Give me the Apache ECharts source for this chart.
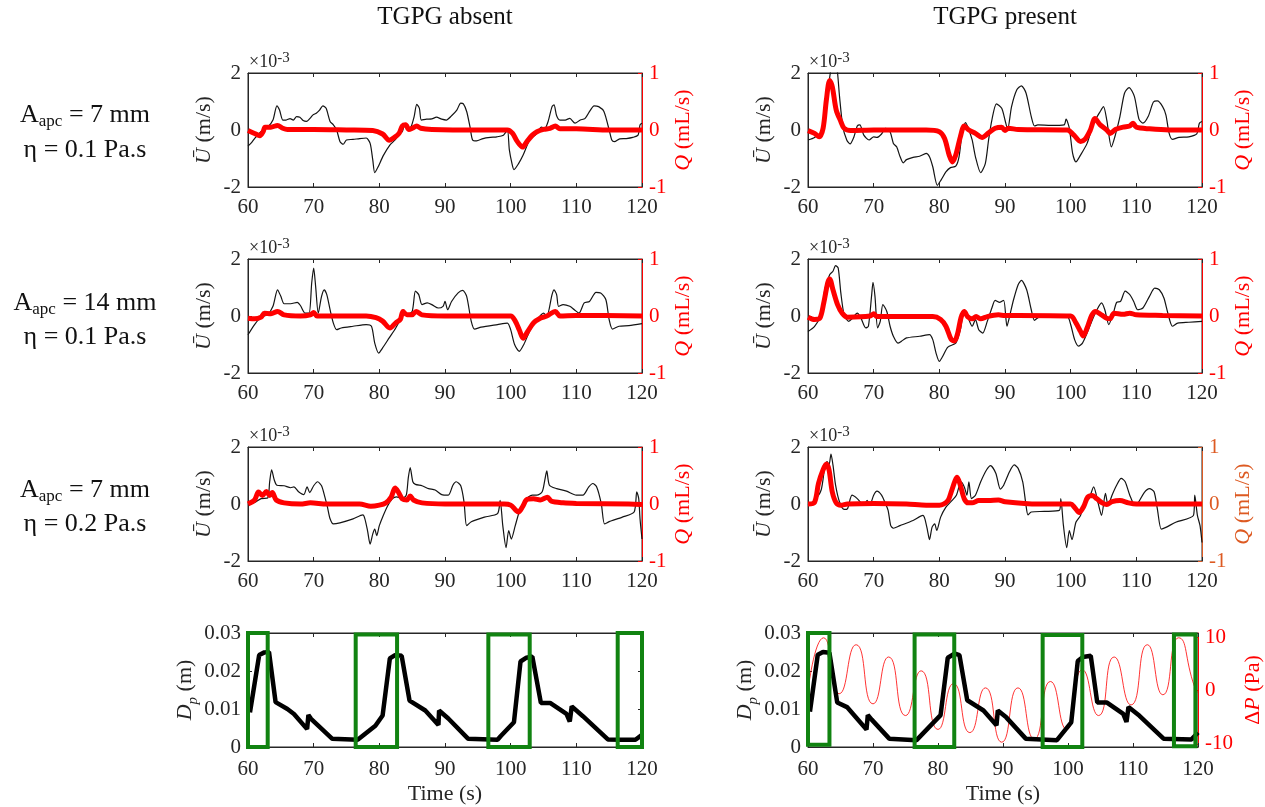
<!DOCTYPE html>
<html>
<head>
<meta charset="utf-8">
<script src="https://cdn.jsdelivr.net/npm/echarts@6/dist/echarts.min.js"></script>
<style>
  html, body { margin: 0; padding: 0; background: #fff; }
  #main { width: 1265px; height: 807px; }
</style>
</head>
<body>
<div id="main"></div>
<script>
// column titles and row labels
var colTitles = ['TGPG absent', 'TGPG present'];
var aApc = ['7', '14', '7'];
var etaVals = ['0.1', '0.1', '0.2'];

// U in units of 1e-3 m/s, Q in mL/s : [time, value]
var uAbsent1 = [[60,-0.56],[60.5,-0.45],[61,-0.3],[62,-0.05],[63,0.1],[63.8,0.35],[64.4,0.85],[64.8,0.7],[65.3,0.35],[65.8,0.35],[66.4,0.4],[66.9,0.35],[67.4,0.47],[67.9,0.45],[68.4,0.33],[68.9,0.3],[69.4,0.4],[69.9,0.53],[70.4,0.59],[70.9,0.7],[71.4,0.85],[71.9,0.76],[72.5,0.3],[73,0.18],[73.5,0],[74,-0.4],[74.5,-0.5],[75,-0.35],[76,-0.33],[77,-0.3],[78,-0.28],[78.6,-0.47],[79,-1.05],[79.3,-1.5],[79.8,-1.3],[80.6,-0.9],[81.6,-0.53],[82.4,-0.35],[83.1,-0.14],[83.5,-0.05],[83.9,0.2],[84.3,0.05],[84.8,0.1],[85.3,0.47],[85.7,0.9],[86.1,0.76],[86.4,0.35],[87.2,0.38],[88,0.39],[88.7,0.45],[89.5,0.38],[90.2,0.35],[91,0.5],[91.8,0.7],[92.4,0.94],[92.8,0.92],[93.3,0.65],[93.8,0.12],[94.2,-0.35],[94.8,-0.38],[95.8,-0.3],[96.9,-0.26],[97.9,-0.24],[98.9,-0.18],[99.5,0],[99.8,-0.7],[100.2,-1.18],[100.5,-1.39],[101.2,-1.18],[101.9,-0.88],[102.9,-0.35],[103.9,-0.14],[104.7,0.1],[105.2,0.06],[105.7,0.3],[106.3,0.82],[106.6,0.88],[107,0.5],[107.5,0.35],[108.3,0.35],[109,0.41],[109.8,0.24],[110.6,0.35],[111.3,0.4],[112.1,0.68],[112.7,0.85],[113.4,0.82],[114.2,0.65],[115,0],[115.4,-0.35],[115.8,-0.41],[116.6,-0.31],[117.6,-0.3],[118.6,-0.26],[119.4,-0.18],[119.7,0.18],[120,0.24]];
var qAbsent1 = [[60,-0.01],[61,-0.06],[61.8,-0.1],[62.3,-0.03],[62.6,0.05],[63.5,0.05],[64.5,0.08],[65.3,0.03],[66,0.01],[70,0.01],[75,0],[79,-0.01],[80.5,-0.07],[81.5,-0.18],[82.3,-0.13],[83,-0.06],[83.5,0.07],[84,0.09],[84.5,0.01],[85,0.03],[85.7,0.07],[86.3,0.03],[88,0.01],[95,0],[99.5,0],[100.3,-0.06],[101,-0.2],[101.8,-0.3],[102.5,-0.2],[103.3,-0.09],[104,-0.03],[105,0.01],[106,0.03],[106.8,0.07],[107.5,0.02],[110,0.02],[115,0],[120,0]];
var uPresent1 = [[60,-0.35],[61,-0.26],[62,-0.06],[62.5,0.35],[63,1.3],[63.4,2.0],[63.8,2.5],[64.2,2.4],[64.5,2.0],[64.8,1.18],[65.3,0.12],[65.9,-0.35],[66.4,-0.49],[67,-0.24],[67.5,0.14],[67.9,0.18],[68.5,-0.18],[69.3,-0.35],[70,-0.24],[70.5,-0.26],[71.2,-0.14],[71.8,0.06],[72.5,-0.06],[73,-0.47],[73.5,-0.59],[74,-0.92],[74.5,-1.15],[75,-1.04],[76,-0.96],[77,-0.92],[78,-0.82],[78.5,-0.94],[79,-1.29],[79.7,-1.94],[80.3,-1.74],[81,-1.47],[81.7,-1.32],[82.5,-1.27],[83,-0.94],[83.5,-0.06],[84,0.26],[84.5,0],[85,-0.35],[85.5,-0.94],[86.3,-1.5],[87,-1.18],[87.5,-0.35],[88,0.35],[88.7,0.92],[89.5,0.76],[90,0.35],[90.4,0.02],[91,0.82],[91.8,1.41],[92.5,1.55],[93.2,1.3],[94,0.47],[94.5,0.14],[95,0.18],[97,0.16],[99,0.18],[99.3,0.38],[99.8,0.06],[100.3,-0.82],[100.8,-1.12],[101.5,-0.88],[102.5,-0.47],[103.5,0.24],[104.5,0.65],[105,0.82],[105.5,0.35],[106.2,-0.59],[106.8,-0.18],[107.5,0.47],[108.2,1.29],[108.9,1.49],[109.7,1.18],[110.4,0.38],[111,0.24],[111.8,0.47],[112.6,0.98],[113.2,1.02],[114,0.82],[114.5,0.53],[115,-0.12],[115.5,-0.33],[116.5,-0.26],[118,-0.24],[119.2,-0.14],[119.6,0.24],[120,0.3]];
var qPresent1 = [[60,-0.01],[61,-0.06],[61.7,-0.12],[62.3,0.03],[62.8,0.53],[63.3,0.87],[63.7,0.76],[64.3,0.35],[65,0.15],[65.5,0.03],[66.5,-0.01],[70,0],[78,0],[80,-0.03],[80.8,-0.15],[81.5,-0.44],[82,-0.56],[82.5,-0.44],[83.2,-0.12],[83.8,0.07],[84.5,0],[85.5,-0.06],[86.5,-0.13],[87.5,-0.05],[88.5,0.03],[89.5,0.05],[90,-0.01],[90.5,0.03],[92,0.01],[99.5,0],[100.5,-0.09],[101.5,-0.2],[102.2,-0.16],[103,0],[103.7,0.2],[104.5,0.09],[105.5,0],[106,-0.06],[106.8,0.01],[108,0.05],[109,0.07],[109.5,0.12],[110,0.05],[112,0.02],[115,0],[120,0]];

var uAbsent2 = [[60,-0.66],[61,-0.3],[62,-0.04],[63,0.05],[63.8,0.34],[64.5,0.92],[65,0.69],[65.5,0.43],[66.5,0.43],[67.5,0.48],[68,0.36],[68.7,0.1],[69.3,0.1],[69.7,1.16],[70,1.68],[70.3,1.04],[70.7,0.1],[71.2,0.69],[71.6,0.92],[72,0.75],[72.5,0.22],[73,-0.25],[73.5,-0.48],[74.2,-0.42],[76,-0.36],[78,-0.3],[78.8,-0.36],[79.3,-0.95],[79.9,-1.3],[80.5,-1.12],[81.5,-0.77],[82.5,-0.42],[83.3,-0.07],[83.7,0.22],[84.2,0.05],[85,0.16],[85.5,0.87],[86,0.75],[86.5,0.4],[87.3,0.46],[88,0.4],[89,0.28],[89.7,0.34],[90,0.51],[90.4,0.22],[91,0.51],[92,0.81],[92.7,0.9],[93.3,0.69],[94,-0.19],[94.5,-0.46],[95.5,-0.39],[98,-0.3],[99.5,-0.25],[100,-0.48],[100.6,-1],[101.3,-1.24],[102,-1],[103,-0.48],[104,-0.13],[105,0.1],[105.5,-0.01],[106.3,0.75],[106.6,0.92],[107,0.75],[107.3,0.34],[108,0.4],[109,0.34],[109.7,0.22],[110.4,0.1],[111.2,0.46],[112,0.51],[113,0.83],[113.7,0.81],[114.5,0.57],[115,-0.13],[115.5,-0.46],[116.5,-0.36],[118,-0.34],[120,-0.27]];
var qAbsent2 = [[60,-0.04],[61,-0.05],[62,-0.02],[62.5,0.05],[63.5,0.04],[64.5,0.08],[65.5,0.02],[68,0],[69.5,0.02],[70,0.06],[70.5,0],[72,0],[78,0],[79.5,-0.03],[80.5,-0.09],[81.6,-0.21],[82.5,-0.12],[83.2,-0.06],[83.6,0.08],[84.2,0.02],[85,0.02],[85.6,0.08],[86.5,0.02],[90,0],[100,0],[100.7,-0.09],[101.3,-0.24],[101.9,-0.39],[102.6,-0.27],[103.5,-0.12],[104.5,-0.04],[105.5,0],[106.8,0.08],[107.5,0],[110,0.01],[120,0]];
var uPresent2 = [[60,-0.54],[61,-0.36],[62,0.05],[62.6,0.98],[63.3,1.45],[63.8,1.57],[64.2,1.77],[64.6,1.68],[65,0.81],[65.5,0.05],[66.2,-0.19],[66.8,-0.07],[67.5,0.1],[68,-0.04],[68.8,-0.42],[69.2,-0.36],[69.7,0.75],[69.9,1.18],[70.2,0.69],[70.6,-0.42],[71,-0.19],[71.4,0.4],[72,0.16],[72.5,-0.36],[73,-0.71],[73.7,-0.95],[74.2,-0.89],[75,-0.77],[77,-0.71],[78.5,-0.65],[79,-0.83],[79.5,-1.3],[80,-1.59],[80.5,-1.42],[81.3,-1.09],[82.5,-0.95],[83.2,-0.48],[83.8,0.22],[84.3,-0.01],[85,-0.36],[85.5,-0.13],[86,-0.48],[86.6,-0.6],[87.3,-0.19],[88,0.28],[88.5,0.55],[89.2,0.48],[89.8,0.55],[90.3,-0.36],[90.7,-0.01],[91.3,0.57],[92,1.1],[92.5,1.25],[93.3,0.92],[94,0.22],[94.5,-0.15],[95.2,-0.04],[97,-0.03],[99.5,-0.03],[100,-0.3],[100.6,-0.83],[101.2,-1.06],[101.8,-0.95],[102.5,-0.6],[103.2,-0.19],[104,0.22],[104.7,0.46],[105.2,0.22],[105.8,-0.3],[106.5,0.1],[107,0.48],[107.6,0.51],[108.3,0.87],[109,0.75],[109.6,0.51],[110.2,0.22],[111,0.28],[112,0.69],[112.8,0.98],[113.5,0.92],[114.2,0.63],[114.8,0.1],[115.5,-0.36],[116.3,-0.25],[118,-0.22],[120,-0.19]];
var qPresent2 = [[60,-0.02],[61,-0.06],[61.8,-0.04],[62.4,0.23],[63,0.58],[63.3,0.65],[63.8,0.46],[64.5,0.2],[65.2,0.05],[66,-0.02],[69.5,0],[70,0.04],[70.5,-0.01],[79,-0.01],[80.2,-0.06],[81,-0.18],[81.8,-0.41],[82.3,-0.44],[82.8,-0.3],[83.3,-0.03],[83.8,0.08],[84.3,-0.01],[85,-0.05],[85.6,-0.01],[86.3,-0.05],[87.3,-0.01],[89,0.02],[90,0.01],[92,0.01],[100,0],[100.8,-0.12],[101.5,-0.27],[101.9,-0.35],[102.5,-0.21],[103.2,0.01],[103.8,0.08],[104.7,0.02],[105.5,-0.04],[106,-0.05],[106.6,0.05],[108,0.03],[109,0.05],[110,0.02],[114,0.01],[120,0]];

var uAbsent3 = [[60,-0.02],[61,0.05],[62,0.19],[63,0.21],[63.3,0.78],[63.6,1.2],[64,0.84],[64.4,0.66],[65.5,0.64],[66.5,0.57],[67,0.6],[67.7,0.43],[68.5,0.33],[69,0.6],[69.4,0.4],[70,0.64],[70.6,0.78],[71.2,0.64],[71.7,0.25],[72.1,-0.11],[72.5,-0.52],[73,-0.7],[74,-0.66],[76,-0.52],[77.5,-0.38],[77.8,-0.52],[78.2,-0.93],[78.6,-1.41],[79,-1.05],[79.3,-0.88],[79.6,-1.11],[80,-0.76],[80.6,-0.4],[81.3,-0.05],[82,0.19],[82.6,0.25],[83.5,0.19],[84.1,0.31],[84.4,0.9],[84.7,1.28],[85.1,0.78],[85.5,0.69],[86.5,0.64],[87.5,0.54],[88.5,0.49],[89.5,0.33],[90.5,0.31],[91.2,0.66],[91.7,0.78],[92.4,0.64],[92.9,0.07],[93.3,-0.76],[94,-0.62],[96,-0.46],[98,-0.34],[98.4,0.13],[98.8,-0.76],[99.3,-1.53],[99.7,-0.93],[100.1,-1.23],[100.7,-0.76],[101.3,-0.28],[102,0.07],[103.3,0.31],[104,0.31],[104.8,0.43],[105.2,0.84],[105.5,1.16],[105.9,0.66],[107,0.54],[108.5,0.45],[110,0.31],[111,0.31],[111.9,0.6],[112.5,0.72],[113.1,0.6],[113.8,0.01],[114.3,-0.7],[115,-0.62],[117,-0.46],[118.8,-0.28],[119.2,0.43],[119.5,0.19],[119.7,-0.52],[120,-1.23]];
var qAbsent3 = [[60,0],[61,0.07],[61.6,0.21],[62.2,0.15],[62.8,0.22],[63.3,0.15],[63.7,0.2],[64.3,0.07],[65.5,0.02],[68,0],[69.5,0.02],[72,0],[77,0],[78.7,-0.04],[80,-0.02],[81,0.02],[81.8,0.12],[82.4,0.28],[82.9,0.21],[83.5,0.09],[84.2,0.07],[84.7,0.14],[85.2,0.07],[86.5,0.02],[90,0],[99,0],[100,-0.02],[100.8,-0.11],[101.2,-0.14],[101.8,-0.05],[102.5,0.08],[103.5,0.09],[104.5,0.07],[105.6,0.12],[106.2,0.05],[108,0.02],[110,0.01],[118,0],[120,-0.01]];
var uPresent3 = [[60,-0.02],[61,0.13],[62,0.49],[62.6,1.37],[62.9,1.49],[63.2,1.37],[63.5,1.75],[63.8,1.37],[64.2,0.66],[64.8,0.07],[65.5,-0.19],[66,-0.17],[66.7,0.31],[67.5,0.19],[68.5,-0.05],[69,0.13],[69.4,-0.05],[70,0.31],[70.5,0.45],[71.2,0.31],[71.8,0.01],[72.2,-0.22],[72.6,-0.76],[73,-0.85],[74,-0.76],[76,-0.58],[77.5,-0.4],[77.8,-0.52],[78.2,-0.93],[78.5,-1.25],[78.9,-0.81],[79.3,-0.7],[79.6,-0.93],[80.2,-0.46],[81,-0.11],[81.8,0.09],[82.6,0.31],[83.3,0.78],[83.8,0.6],[84.2,0.31],[84.5,0.78],[84.9,0.19],[85.5,0.31],[86.3,0.78],[87.2,1.2],[87.8,1.35],[88.6,1.08],[89.3,0.52],[89.8,0.66],[90.7,1.14],[91.4,1.37],[92,1.25],[92.7,0.78],[93.2,-0.05],[93.5,-0.38],[94,-0.28],[96,-0.26],[98.3,-0.22],[98.5,0.19],[98.9,-0.76],[99.4,-1.53],[99.8,-0.93],[100.2,-1.25],[100.8,-0.64],[101.5,-0.4],[102.2,0.07],[102.8,0.19],[103.5,0.6],[104.2,0.01],[104.7,-0.4],[105.3,0.37],[105.7,-0.05],[106.3,0.31],[107,0.66],[107.7,0.9],[108.3,0.78],[109,0.31],[109.8,-0.05],[110.3,0.05],[111.2,0.4],[112,0.54],[112.7,0.43],[113.2,-0.17],[113.8,-0.88],[114.5,-0.82],[116,-0.64],[118.7,-0.4],[118.9,0.31],[119.3,-0.4],[119.7,-0.76],[120,-1.35]];
var qPresent3 = [[60,0],[61,0.03],[61.6,0.36],[62.3,0.6],[62.8,0.7],[63.2,0.6],[63.7,0.21],[64.3,0.02],[65,-0.02],[66,0],[70,0.01],[75,0],[78,-0.02],[80,-0.02],[81.3,0.06],[81.8,0.21],[82.4,0.41],[82.7,0.47],[83.2,0.33],[83.8,0.09],[84.4,0.02],[85,0.02],[86,0.06],[87.5,0.06],[89,0.07],[90,0.04],[95,0],[100,0],[100.6,-0.06],[101.3,-0.15],[102,-0.04],[102.6,0.12],[103.3,0.15],[104,0.09],[104.8,0.02],[105.5,-0.01],[106.3,0.04],[107.5,0.06],[108.8,0.02],[110,0],[120,0]];

// bottom row: Dp in m, dP in Pa
var dpAbsent = [[60.3,0.0091],[61.7,0.0242],[62.5,0.0249],[63.2,0.025],[64.2,0.0118],[66,0.01],[67,0.0087],[69,0.0047],[69.2,0.0084],[69.6,0.0074],[72.8,0.0022],[76.7,0.0019],[79.4,0.0056],[80.5,0.0083],[81.6,0.0233],[82.4,0.0242],[83.4,0.024],[84.6,0.0122],[87,0.0096],[89,0.0058],[89.1,0.0096],[90.5,0.0075],[93.5,0.0022],[98,0.0019],[98.5,0.0029],[100.5,0.0065],[101.5,0.0225],[102.4,0.0235],[103.3,0.0238],[104.6,0.0116],[106,0.0116],[108.5,0.0087],[109,0.0067],[109.3,0.0107],[111,0.0081],[114.8,0.002],[117,0.0019],[119,0.0019],[120,0.0032]];
var dpPresent = [[60.3,0.0093],[61.5,0.0243],[62.3,0.025],[63.3,0.0248],[64.5,0.0117],[66,0.0105],[69,0.0046],[69.2,0.0084],[69.8,0.0072],[72.5,0.0022],[76.7,0.0018],[80.4,0.0084],[81.5,0.0235],[82.6,0.0246],[83.3,0.0242],[84.5,0.0123],[87,0.0096],[89,0.0057],[89.2,0.0096],[90.5,0.0078],[93.5,0.0022],[98.3,0.0018],[100.5,0.0065],[101.5,0.0226],[102.3,0.0237],[103.5,0.024],[104.5,0.0117],[106,0.0117],[108.5,0.0087],[109,0.0066],[109.3,0.0105],[111,0.0082],[114.7,0.0022],[119,0.002],[120,0.0038]];
var dPPresent = [[60,0],[62.4,9.9],[64.8,-0.6],[67.4,8.6],[70,-2.5],[72.4,6.3],[75,-4.7],[77.4,3.7],[80,-7.3],[82.4,1.3],[84.9,-7.9],[87.3,0.5],[89.8,-9.7],[92.3,0.5],[94.8,-9.1],[97.3,1.7],[99.8,-7.3],[102.2,3.9],[104.7,-4.7],[107.1,6.3],[109.7,-2.7],[112.2,8.6],[114.6,-0.8],[117,9.9],[119.5,0.6],[120,-0.4]];

// green boxes: [t0, t1, Dp0, Dp1]
var boxesAbsent = [[60,63.0,0,0.03],[76.4,82.7,-0.0003,0.0296],[96.6,102.9,0,0.0296],[116.3,120,0,0.03]];
var boxesPresent = [[60,63.3,0.0006,0.03],[76.4,82.5,0,0.0296],[96.1,102.2,-0.0006,0.0295],[116.3,119.6,0.0002,0.0296]];

var uSets = [[uAbsent1, uPresent1], [uAbsent2, uPresent2], [uAbsent3, uPresent3]];
var qSets = [[qAbsent1, qPresent1], [qAbsent2, qPresent2], [qAbsent3, qPresent3]];

var FONT = 'Liberation Serif';
var AX = '#262626';
var RED = '#ff0000';
var ORANGE = '#dd5a22';
var GREEN = '#118311';
var colLeft = [248, 808];
var W = 394;
var rowTop = [73, 259, 447, 633];
var H = 114;

var grids = [], xAxes = [], yAxes = [], series = [], graphics = [];

function tickLabel(color) {
    return { fontFamily: FONT, fontSize: 21, color: color, margin: 7 };
}

function addGrid(col, row) {
    var g = grids.length;
    grids.push({ left: colLeft[col], top: rowTop[row], width: W, height: H,
        show: true, borderColor: AX, borderWidth: 1, backgroundColor: 'transparent' });
    var xb = xAxes.length;
    xAxes.push({
        gridIndex: g, type: 'value', min: 60, max: 120, interval: 10, position: 'bottom',
        axisLine: { show: true, onZero: false, lineStyle: { color: AX, width: 1 } },
        axisTick: { inside: true, length: 4, lineStyle: { color: AX } },
        axisLabel: Object.assign(tickLabel(AX), { margin: row === 3 ? 12 : 10 }),
        splitLine: { show: false },
        name: row === 3 ? 'Time (s)' : '', nameLocation: 'middle', nameGap: 36,
        nameTextStyle: { fontFamily: FONT, fontSize: 22, color: AX }
    });
    xAxes.push({
        gridIndex: g, type: 'value', min: 60, max: 120, interval: 10, position: 'top',
        axisLine: { show: true, onZero: false, lineStyle: { color: AX, width: 1 } },
        axisTick: { inside: true, length: 4, lineStyle: { color: AX } },
        axisLabel: { show: false }, splitLine: { show: false }
    });
    return { g: g, xb: xb };
}

function yAxis(g, pos, color, min, max, interval, name, gap, fmt, rich) {
    var y = yAxes.length;
    yAxes.push({
        gridIndex: g, type: 'value', position: pos, min: min, max: max, interval: interval,
        axisLine: { show: true, onZero: false, lineStyle: { color: color, width: 1 } },
        axisTick: { inside: true, length: 4, lineStyle: { color: color } },
        axisLabel: Object.assign(tickLabel(color), { formatter: fmt }),
        splitLine: { show: false },
        name: name, nameLocation: 'middle', nameRotate: 90, nameGap: gap,
        nameTextStyle: { fontFamily: FONT, fontSize: 22, color: color, rich: rich }
    });
    return y;
}

function italic(color) {
    return { i: { fontFamily: FONT, fontSize: 22, fontStyle: 'italic', color: color },
             sub: { fontFamily: FONT, fontSize: 15, fontStyle: 'italic', color: color,
                    verticalAlign: 'bottom', lineHeight: 15, padding: [0, 0, -4, 0] } };
}

var intFmt = function (v) { return String(Math.round(v)); };

// rows with velocity and flow rate
for (var r = 0; r < 3; r++) {
    for (var c = 0; c < 2; c++) {
        var p = addGrid(c, r);
        var qColor = (r === 2 && c === 1) ? ORANGE : RED;
        var yl = yAxis(p.g, 'left', AX, -2, 2, 2, '{i|Ū} (m/s)', 33, intFmt, italic(AX));
        var yr = yAxis(p.g, 'right', qColor, -1, 1, 1, '{i|Q} (mL/s)', 30, intFmt, italic(qColor));
        series.push({ type: 'line', xAxisIndex: p.xb, yAxisIndex: yl, data: uSets[r][c],
            showSymbol: false, smooth: 0.25, lineStyle: { color: '#141414', width: 1.2 }, z: 2 });
        series.push({ type: 'line', xAxisIndex: p.xb, yAxisIndex: yr, data: qSets[r][c],
            showSymbol: false, smooth: 0.3, lineStyle: { color: RED, width: 5 }, z: 3 });
        graphics.push({ type: 'text', x: colLeft[c] + 1, y: rowTop[r] - 12,
            style: { text: '{a|×10}{b|-3}', fill: AX, align: 'left', verticalAlign: 'middle',
                rich: { a: { fontFamily: FONT, fontSize: 18, fill: AX, lineHeight: 20, verticalAlign: 'bottom' },
                        b: { fontFamily: FONT, fontSize: 15, fill: AX, lineHeight: 14, verticalAlign: 'top' } } } });
    }
}

// bottom row: pupil diameter (and pressure)
var dpFmt = function (v) { return v === 0 ? '0' : v.toFixed(2); };
function boxData(list) {
    return list.map(function (b) { return [{ coord: [b[0], b[2]] }, { coord: [b[1], b[3]] }]; });
}
var dpSets = [dpAbsent, dpPresent];
var boxSets = [boxesAbsent, boxesPresent];
for (var c2 = 0; c2 < 2; c2++) {
    var pb = addGrid(c2, 3);
    var yd = yAxis(pb.g, 'left', AX, 0, 0.03, 0.01, '{i|D}{sub|p} (m)', 51, dpFmt, italic(AX));
    if (c2 === 0) {
        yAxes.push({ gridIndex: pb.g, type: 'value', position: 'right', min: 0, max: 0.03, interval: 0.01,
            axisLine: { show: true, lineStyle: { color: AX } },
            axisTick: { inside: true, length: 4, lineStyle: { color: AX } },
            axisLabel: { show: false }, splitLine: { show: false } });
    } else {
        var yp = yAxes.length;
        yAxes.push({ gridIndex: pb.g, type: 'value', position: 'right', min: -10.6, max: 10.8,
            axisLine: { show: true, onZero: false, lineStyle: { color: RED } },
            axisTick: { inside: true, length: 4, lineStyle: { color: RED }, customValues: [-10, 0, 10] },
            axisLabel: Object.assign(tickLabel(RED), { customValues: [-10, 0, 10] }),
            splitLine: { show: false },
            name: 'Δ{i|P} (Pa)', nameLocation: 'middle', nameRotate: 90, nameGap: 44,
            nameTextStyle: { fontFamily: FONT, fontSize: 22, color: RED, rich: italic(RED) } });
        series.push({ type: 'line', xAxisIndex: pb.xb, yAxisIndex: yp, data: dPPresent,
            showSymbol: false, smooth: 0.6, lineStyle: { color: RED, width: 0.8 }, z: 2 });
    }
    series.push({ type: 'line', xAxisIndex: pb.xb, yAxisIndex: yd, data: dpSets[c2],
        showSymbol: false, clip: false, lineStyle: { color: '#000', width: 4.5 }, z: 3,
        markArea: { silent: true, z: 4,
            itemStyle: { color: 'rgba(0,0,0,0)', borderColor: GREEN, borderWidth: 4 },
            data: boxData(boxSets[c2]) } });
}

// column titles
colTitles.forEach(function (t, c) {
    graphics.push({ type: 'text', x: colLeft[c] + W / 2, y: 17,
        style: { text: t, fill: '#111', font: '25px "' + FONT + '"', align: 'center', verticalAlign: 'middle' } });
});

// row labels
var rowMid1 = [115, 303, 490], rowMid2 = [150, 337, 524];
for (var k = 0; k < 3; k++) {
    graphics.push({ type: 'text', x: 85, y: rowMid1[k],
        style: { text: '{t|A}{s|apc}{t| = ' + aApc[k] + ' mm}', align: 'center', verticalAlign: 'middle',
            rich: { t: { fontFamily: FONT, fontSize: 26, fill: '#111', lineHeight: 30 },
                    s: { fontFamily: FONT, fontSize: 17, fill: '#111', lineHeight: 17, verticalAlign: 'bottom' } } } });
    graphics.push({ type: 'text', x: 85, y: rowMid2[k],
        style: { text: 'η = ' + etaVals[k] + ' Pa.s', fill: '#111', font: '26px "' + FONT + '"',
            align: 'center', verticalAlign: 'middle' } });
}

var myChart = echarts.init(document.getElementById('main'));
myChart.setOption({
    backgroundColor: '#fff',
    animation: false,
    grid: grids,
    xAxis: xAxes,
    yAxis: yAxes,
    series: series,
    graphic: graphics
});
</script>
</body>
</html>
